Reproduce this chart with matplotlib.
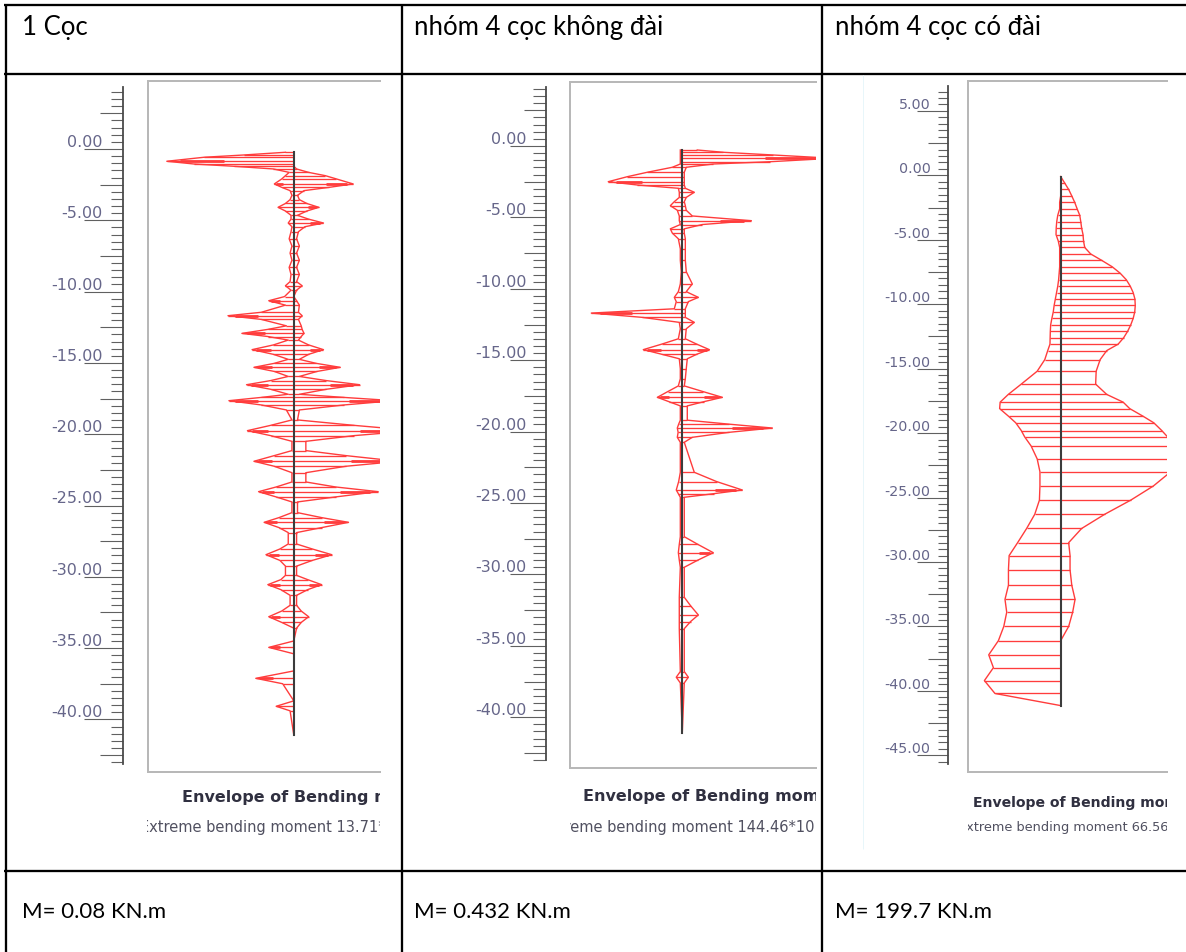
import matplotlib.pyplot as plt
import numpy as np
from matplotlib.lines import Line2D
from matplotlib.ticker import FixedLocator, FormatStrFormatter

W, H = 1186, 953
PT = 0.72          # points per pixel at dpi=100
RED = '#ff3c3c'

titles = ['1 Cọc', 'nhóm 4 cọc không đài', 'nhóm 4 cọc có đài']
results = ['M= 0.08 KN.m', 'M= 0.432 KN.m', 'M= 199.7 KN.m']
caption = 'Envelope of Bending moments'
extremes = ['Extreme bending moment 13.71*10^-3 kNm/m',
            'Extreme bending moment 144.46*10^-3 kNm/m',
            'Extreme bending moment 66.56 kNm/m']

# ---- pile 1: single pile (level m, envelope min / max)
level1 = np.array([
    -0.23, -0.42, -0.58, -0.86, -1.05, -1.21, -1.40, -1.64, -1.87, -2.10,
    -2.45, -2.69, -2.92, -3.25, -3.55, -3.82, -4.09, -4.35, -4.65, -4.92,
    -5.19, -5.45, -5.80, -6.30, -6.80, -7.30, -7.80, -8.30, -8.80, -9.30,
    -9.59, -9.90, -10.35, -10.64, -10.95, -11.45, -11.69, -11.95, -12.40, -12.65,
    -12.93, -13.15, -13.40, -13.74, -14.07, -14.40, -14.75, -15.03, -15.31, -15.60,
    -15.95, -16.24, -16.53, -16.85, -17.20, -17.42, -17.65, -17.95, -18.30, -19.00,
    -19.38, -19.75, -20.10, -20.50, -21.15, -21.50, -21.90, -22.25, -22.70, -23.35,
    -23.70, -24.03, -24.40, -24.75, -25.50, -25.85, -26.18, -26.55, -26.90, -27.70,
    -28.05, -28.45, -28.85, -29.25, -29.90, -30.20, -30.55, -30.90, -31.30, -32.00,
    -32.40, -32.80, -33.20, -33.60, -34.50, -34.95, -35.40, -36.60, -37.12, -37.50,
    -38.70, -39.08, -39.40, -41.10])
m1_min = np.array([
    -0.9, -5.4, -9.7, -13.7, -10.8, -6.5, -2.2, -0.5, -0.9, -1.3,
    -2.1, -1.3, -0.4, -0.2, -0.4, -0.9, -1.7, -0.9, -0.3, -0.3,
    -0.6, -0.2, -0.3, -0.5, -0.2, -0.4, -0.2, -0.5, -0.3, -0.4,
    -0.9, -0.3, -1.0, -2.7, -0.9, -3.5, -7.1, -3.5, -0.8, -2.8,
    -5.6, -2.8, -0.6, -2.2, -4.5, -2.2, -0.6, -2.1, -4.3, -2.1,
    -0.6, -2.5, -5.1, -2.5, -0.6, -3.5, -7.0, -3.5, -0.8, -0.2,
    -2.5, -5.0, -2.5, -0.2, -0.2, -2.1, -4.3, -2.1, -0.2, -0.2,
    -1.9, -3.8, -1.9, -0.2, -0.2, -1.6, -3.2, -1.6, -0.6, -0.6,
    -1.5, -3.0, -1.5, -0.9, -0.9, -1.4, -2.8, -1.4, -0.4, -0.4,
    -1.3, -2.7, -1.3, 0.0, 0.0, -2.7, 0.0, 0.0, -4.1, -1.2,
    0.0, -1.9, -0.4, 0.0])
m1_max = np.array([
    0.0, 0.0, 0.0, 0.0, 0.0, 0.0, 0.3, 1.6, 3.4, 4.6,
    6.4, 3.8, 1.1, 0.4, 0.6, 1.4, 2.7, 1.4, 0.4, 1.6,
    3.2, 1.2, 0.5, 0.3, 0.6, 0.3, 0.6, 0.3, 0.6, 0.3,
    0.9, 0.3, 0.0, 0.3, 0.6, 0.5, 0.9, 0.5, 0.8, 0.9,
    1.1, 0.8, 0.5, 1.6, 3.2, 1.6, 0.6, 2.4, 5.0, 2.5,
    0.6, 3.5, 7.1, 3.5, 0.6, 5.4, 10.8, 5.4, 0.6, 0.4,
    6.5, 13.0, 6.5, 1.3, 1.3, 5.6, 11.3, 5.6, 1.3, 1.3,
    4.5, 9.1, 4.5, 0.4, 0.4, 3.0, 5.9, 3.0, 0.3, 0.3,
    2.0, 4.1, 2.0, 0.3, 0.3, 1.5, 3.0, 1.5, 0.3, 0.3,
    0.8, 1.6, 0.8, 0.3, 0.0, 0.0, 0.0, 0.0, 0.0, 0.0,
    0.0, 0.0, 0.0, 0.0])

# ---- pile 2: group of 4 piles without cap
level2 = np.array([
    -0.28, -0.44, -0.63, -0.86, -1.10, -1.26, -1.49, -1.84, -2.15, -2.50,
    -2.73, -2.96, -3.24, -3.60, -3.90, -4.18, -4.50, -4.90, -5.23, -5.50,
    -5.80, -6.10, -6.50, -7.20, -8.00, -8.80, -9.66, -10.20, -10.60, -10.90,
    -11.40, -11.70, -12.00, -12.35, -12.80, -13.50, -13.88, -14.26, -14.58, -14.90,
    -15.60, -16.30, -16.80, -17.20, -17.60, -17.90, -18.20, -19.20, -19.48, -19.75,
    -20.05, -20.40, -20.75, -22.85, -23.50, -24.09, -24.35, -24.60, -27.36, -27.90,
    -28.48, -29.00, -29.50, -31.60, -32.20, -32.84, -33.30, -33.80, -36.80, -37.20,
    -37.60, -41.10])
m2_min = np.array([
    -1.9, -1.9, -1.9, -1.9, -1.9, -1.9, -9.6, -33.7, -52.9, -71.2,
    -43.3, -3.8, -2.9, -2.9, -7.7, -11.5, -4.8, -2.9, -2.9, -1.9,
    -11.5, -9.6, -3.8, -1.9, -1.9, -1.0, -1.9, -3.8, -7.7, -5.8,
    -7.7, -87.5, -38.5, -2.9, -1.9, -3.8, -20.0, -37.5, -20.0, -2.9,
    -1.9, -1.9, -3.8, -14.0, -24.0, -13.0, -1.9, -1.9, -3.5, -4.8,
    -4.0, -4.8, -1.9, -1.9, -3.5, -5.8, -3.8, -1.9, -1.9, -2.9,
    -3.8, -2.9, -1.9, -2.9, -2.9, -2.9, -2.9, -2.9, -1.9, -5.8,
    -1.9, 0.0])
m2_max = np.array([
    14.4, 39.4, 87.5, 144.46, 84.7, 29.8, 3.8, 1.9, 1.9, 1.9,
    1.9, 2.9, 11.5, 3.8, 1.9, 2.9, 3.8, 9.6, 66.4, 19.2,
    1.9, 1.9, 2.9, 2.9, 2.9, 3.8, 9.6, 3.8, 15.4, 5.8,
    2.9, 2.9, 2.9, 11.5, 3.8, 2.9, 14.0, 26.0, 14.0, 4.8,
    3.8, 2.9, 1.9, 20.0, 38.5, 21.0, 4.8, 4.8, 45.0, 86.6,
    45.0, 9.6, 1.9, 11.5, 33.0, 57.7, 30.0, 1.9, 1.9, 15.0,
    29.8, 15.0, 1.9, 1.9, 8.0, 15.4, 8.0, 1.9, 1.9, 5.8,
    1.9, 0.0])

# ---- pile 3: group of 4 piles with cap
level3 = np.array([
    -0.10, -0.60, -1.10, -1.60, -2.10, -2.60, -3.10, -3.60, -4.10, -4.60,
    -5.10, -5.60, -6.10, -6.60, -7.10, -7.60, -8.10, -8.60, -9.10, -9.60,
    -10.10, -10.60, -11.10, -11.60, -12.10, -12.60, -13.10, -13.60, -14.30, -15.20,
    -16.20, -17.00, -17.60, -18.10, -18.70, -19.20, -19.80, -20.30, -21.00, -22.00,
    -23.00, -24.10, -25.20, -26.30, -27.40, -28.50, -29.50, -30.60, -31.80, -32.90,
    -33.90, -35.00, -36.10, -37.20, -38.20, -39.20, -40.20, -41.14])
m3_min = np.array([
    0.0, 0.0, 0.0, 0.0, -0.6, -0.6, -1.7, -2.3, -2.6, -2.7,
    -1.4, -0.6, -0.6, -0.6, -0.6, -0.9, -1.2, -1.7, -2.4, -3.1,
    -3.8, -4.3, -5.1, -5.8, -6.0, -6.1, -6.2, -7.5, -9.2, -13.6,
    -22.8, -30.3, -35.0, -35.3, -30.1, -26.0, -22.8, -20.8, -17.1, -13.6,
    -12.0, -12.0, -12.3, -15.0, -19.7, -24.9, -29.8, -30.2, -30.2, -32.2,
    -31.2, -32.9, -36.0, -41.6, -38.9, -44.1, -38.0, 0.0])
m3_max = np.array([
    0.0, 2.3, 4.6, 6.4, 8.1, 9.5, 11.0, 11.6, 12.1, 12.9,
    13.2, 13.9, 17.3, 23.7, 29.8, 34.4, 37.9, 40.2, 41.9, 42.9,
    43.1, 42.8, 41.9, 40.5, 38.7, 36.4, 33.2, 26.6, 22.8, 20.5,
    20.2, 26.6, 36.1, 39.9, 47.7, 53.8, 58.4, 61.8, 64.7, 66.56,
    63.6, 53.6, 40.5, 25.4, 12.1, 4.6, 5.4, 5.4, 6.4, 8.3,
    6.9, 4.6, 0.0, 0.0, 0.0, 0.0, 0.0, 0.0])

# screen layout of each column (pixels); tick lengths / label offset in px
panels = [
    dict(level=level1, lo=m1_min, hi=m1_max, xl=147, xr=380, pile=293.8,
         ruler=122.5, y0=150, s=14.26, scale=9.27, ftop=82, fbot=773,
         rtop=4.33, rbot=-43.1, tmax=4.0, tmin=-43.0, majors=np.arange(0, -40.1, -5),
         ticks=(39, 23, 12), lab_off=19.5, lab_fs=11.5, fs=1.0,
         thick=2.0, cap_x=182, cap_y=798, ext_x=140, ext_y=828),
    dict(level=level2, lo=m2_min, hi=m2_max, xl=569.5, xr=816, pile=682.3,
         ruler=545.8, y0=147, s=14.28, scale=1.04, ftop=83, fbot=769,
         rtop=4.1, rbot=-43.0, tmax=4.0, tmin=-43.0, majors=np.arange(0, -40.1, -5),
         ticks=(36, 22, 13), lab_off=19.0, lab_fs=11.5, fs=1.0,
         thick=20.0, cap_x=582.7, cap_y=797, ext_x=541, ext_y=828),
    dict(level=level3, lo=m3_min, hi=m3_max, xl=967.5, xr=1167, pile=1060.7,
         ruler=947.7, y0=176.3, s=12.89, scale=1.73, ftop=82, fbot=773,
         rtop=6.9, rbot=-45.7, tmax=6.5, tmin=-45.5, majors=np.arange(5, -45.1, -5),
         ticks=(31, 20, 10), lab_off=17.0, lab_fs=10.3, fs=0.88,
         thick=None, cap_x=972.7, cap_y=803, ext_x=958, ext_y=828),
]
T, B = 76, 848   # vertical extent of each plot window

fig = plt.figure(figsize=(W / 100, H / 100), dpi=100)


def fig_line(x0, y0, x1, y1, lw=2.3, color='black'):
    fig.add_artist(Line2D([x0 / W, x1 / W], [1 - y0 / H, 1 - y1 / H],
                          transform=fig.transFigure, color=color, lw=lw * PT,
                          solid_capstyle='butt'))


for p, ext in zip(panels, extremes):
    xl, xr = p['xl'], p['xr']
    ax = fig.add_axes([xl / W, 1 - B / H, (xr - xl) / W, (B - T) / H])
    ax.patch.set_visible(False)
    ax.set_ylim((p['y0'] - B) / p['s'], (p['y0'] - T) / p['s'])
    ax.set_xlim(-(p['pile'] - xl) / p['scale'], (xr - p['pile']) / p['scale'])

    lev, lo, hi = p['level'], p['lo'], p['hi']
    # envelope outline + hatching
    ax.hlines(lev, lo, hi, colors=RED, linewidths=0.95, zorder=2)
    ax.plot(lo, lev, color=RED, lw=1.0, zorder=2)
    ax.plot(hi, lev, color=RED, lw=1.0, zorder=2)
    if p['thick'] is not None:
        for side in (lo, hi):
            a = np.abs(side)
            peak = (a[1:-1] >= a[:-2]) & (a[1:-1] >= a[2:]) & (a[1:-1] > p['thick'])
            idx = np.where(peak)[0] + 1
            ax.hlines(lev[idx], 0.55 * side[idx], 0.9 * side[idx],
                      colors=RED, linewidths=2.0, zorder=2)
    # pile axis
    ax.plot([0, 0], [lev[0], lev[-1]], color='#3c3c3c', lw=1.5, zorder=3)

    # window frame
    yt = (B - p['ftop']) / (B - T)
    yb = (B - p['fbot']) / (B - T)
    fr = dict(transform=ax.transAxes, color='#b8b8b8', lw=2.0 * PT, clip_on=False)
    ax.plot([0.004, 0.004], [yb, yt], **fr)
    ax.plot([0.004, 1], [yt, yt], **fr)
    ax.plot([0.004, 1], [yb, yb], **fr)

    # depth ruler on the left spine
    for side in ('top', 'right', 'bottom'):
        ax.spines[side].set_visible(False)
    sp = ax.spines['left']
    sp.set_position(('outward', (xl - p['ruler']) * PT))
    sp.set_bounds(p['rbot'], p['rtop'])
    sp.set_color('#4a4a4a')
    sp.set_linewidth(1.3)
    ax.set_xticks([])
    ax.yaxis.set_major_locator(FixedLocator(p['majors']))
    ax.yaxis.set_minor_locator(FixedLocator(np.arange(p['tmax'], p['tmin'] - 0.01, -0.5)))
    ax.yaxis.set_major_formatter(FormatStrFormatter('%.2f'))
    t_major, t_mid, t_minor = p['ticks']
    ax.tick_params(axis='y', which='major', length=t_major * PT, width=0.8, color='#606060',
                   pad=-(t_major - p['lab_off']) * PT, labelsize=p['lab_fs'],
                   labelcolor='#66668a')
    ax.tick_params(axis='y', which='minor', length=t_minor * PT, width=0.8, color='#606060')
    locs = ax.yaxis.get_minorticklocs()
    for tick, loc in zip(ax.yaxis.get_minor_ticks(len(locs)), locs):
        if abs((loc / 2.5) - round(loc / 2.5)) < 1e-6:
            tick.tick1line.set_markersize(t_mid * PT)
    for lab in ax.get_yticklabels():
        lab.set_verticalalignment('bottom')

    # window caption (clipped by the window)
    fx = lambda x: (x - xl) / (xr - xl)
    fy = lambda y: (B - y) / (B - T)
    ax.text(fx(p['cap_x']), fy(p['cap_y']), caption, transform=ax.transAxes,
            ha='left', va='center', fontsize=11.5 * p['fs'], fontweight='bold',
            color='#303040', clip_on=True)
    ax.text(fx(p['ext_x']), fy(p['ext_y']), ext, transform=ax.transAxes,
            ha='left', va='center', fontsize=10.5 * p['fs'], color='#505060',
            clip_on=True)

# table grid
fig_line(4, 6, W, 6)
fig_line(4, 74.5, W, 74.5)
fig_line(4, 872, W, 872)
for x in (6, 402.3, 822):
    fig_line(x, 5, x, H)
fig_line(863, 76, 863, 850, lw=1, color='#e8f6fa')

# row texts
for x, title, res in zip((22, 414, 835), titles, results):
    fig.text(x / W, 1 - 28 / H, title, ha='left', va='center', fontsize=18.5,
             family=['Lato', 'Noto Sans'], color='black')
    fig.text(x / W, 1 - 912 / H, res, ha='left', va='center', fontsize=16,
             family=['Lato', 'Noto Sans'], color='black')

fig.savefig('out.png', dpi=100)
